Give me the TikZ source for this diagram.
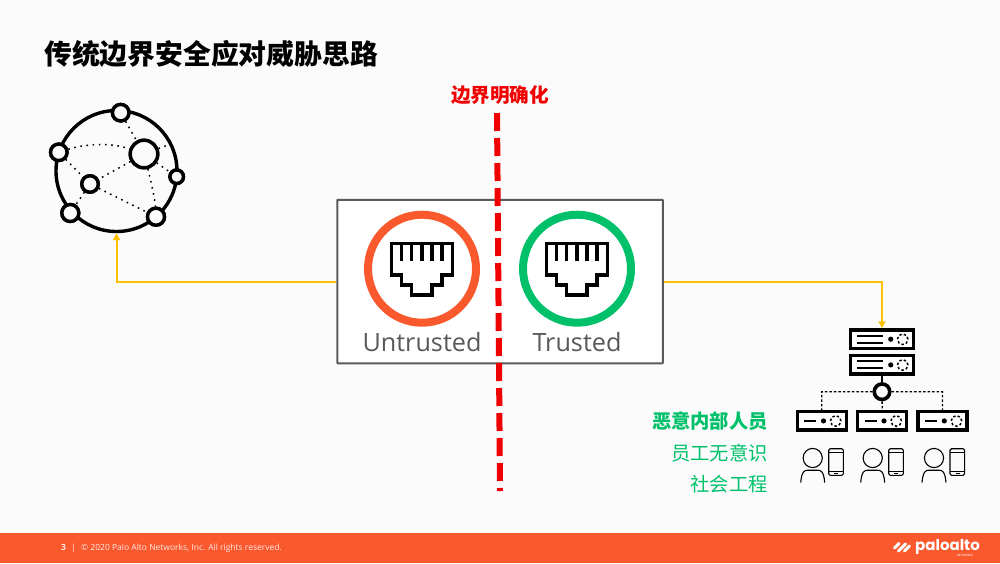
\documentclass[tikz,border=0pt]{standalone}
\usepackage{fontspec}
\setmainfont{Open Sans}
\newfontfamily\cjk{Noto Sans CJK SC}
\newfontfamily\logofont{Poppins}
\usetikzlibrary{arrows.meta,calc}
\definecolor{pagebg}{HTML}{FBFBFB}
\definecolor{paloorange}{HTML}{FA582D}
\definecolor{palogreen}{HTML}{00C16A}
\definecolor{boxgrey}{HTML}{595959}
\definecolor{linkyellow}{HTML}{FFC000}
\definecolor{redline}{HTML}{F00000}
\tikzset{
  ring/.style={circle,draw=black,fill=pagebg,line width=3.4pt,inner sep=0pt,minimum size=#1},
  dotlink/.style={line width=1.5pt,dash pattern=on 1.6pt off 4.6pt},
  portring/.style={circle,draw=#1,fill=white,line width=8pt,inner sep=0pt,minimum size=108pt},
  portlabel/.style={text=boxgrey,font=\fontsize{25.2}{25.2}\selectfont,inner sep=0pt},
  portshape/.style={line width=3.2pt,line join=miter,draw=black},
  uplink/.style={draw=linkyellow,line width=2pt,-{Triangle[length=7pt,width=7pt]}},
  srvbox/.style={rectangle,draw=black,fill=white,line width=3.4pt,inner sep=0pt,minimum width=#1,minimum height=18.5pt},
  srvdash/.style={draw=black,line width=1.5pt,dash pattern=on 2.4pt off 2.2pt},
  netdash/.style={draw=black,line width=1.3pt,dash pattern=on 2.5pt off 2pt},
  person/.style={draw=black,line width=1.1pt},
  cjklabel/.style={inner sep=0pt,anchor=east,font=\cjk\fontsize{19.3}{19.3}\selectfont,text=palogreen},
}
\newcommand{\portglyph}[1]{%
  \draw[portshape,shift={(#1)}] (-30.3,-25.3)--(30.3,-25.3)--(30.3,6.3)--(20,6.3)--(20,16.3)--(10,16.3)--(10,26.3)--(-10.3,26.3)--(-10.3,16.3)--(-20.3,16.3)--(-20.3,6.3)--(-30.3,6.3)--cycle
  (-20.3,-25.3)--(-20.3,-8) (-10.3,-25.3)--(-10.3,-8) (0,-25.3)--(0,-8) (10,-25.3)--(10,-8) (20,-25.3)--(20,-8);}
\newcommand{\bigsrv}[2]{%
  \node[srvbox=63pt] (#1) at (#2) {};
  \draw[black,line width=1.9pt,shift={(#2)}] (-24.7,-3.5)--(1.3,-3.5) (-24.7,3.5)--(1.3,3.5);
  \fill[black,shift={(#2)}] (8.7,0) circle (2.6pt);
  \draw[srvdash,shift={(#2)}] (20.7,0) circle (5.3pt);}
\newcommand{\smallsrv}[2]{%
  \node[srvbox=49pt] (#1) at (#2) {};
  \draw[black,line width=1.9pt,shift={(#2)}] (-17.5,0)--(-5.5,0);
  \fill[black,shift={(#2)}] (1.8,0) circle (2.6pt);
  \draw[srvdash,shift={(#2)}] (14,0) circle (5.3pt);}
\newcommand{\personphone}[1]{%
  \draw[person,shift={(#1)}] (0,0) circle (9.6pt);
  \draw[person,shift={(#1)}] (-12,24.5) .. controls (-11,13) and (-8,12.2) .. (-5,12.2) -- (5,12.2) .. controls (8,12.2) and (11,13) .. (12,24.5);
  \draw[person,rounded corners=1.5pt,shift={(#1)}] (16,-9.3) rectangle (30.6,17.3);
  \draw[person,shift={(#1)}] (16,-5.6)--(30.6,-5.6) (16,13.2)--(30.6,13.2) (21.5,15.2)--(25.5,15.2);}
\begin{document}
\begin{tikzpicture}[x=1pt,y=-1pt]
\useasboundingbox (0,0) rectangle (1000,563);
\fill[pagebg] (0,0) rectangle (1000,563);
\fill[paloorange] (0,533) rectangle (1000,563);
% title
\node[inner sep=0pt,anchor=west,font=\cjk\bfseries\fontsize{27.8}{27.8}\selectfont,text=black] (title) at (44,54) {传统边界安全应对威胁思路};
% globe
\node[circle,draw=black,line width=3.4pt,inner sep=0pt,minimum size=121pt] (globe) at (116.5,171) {};
\coordinate (rimr) at (168,145);
\node[ring=16.5pt] (gtop) at (120.7,112.7) {};
\node[ring=16.5pt] (gleft) at (58.8,152.3) {};
\node[ring=27.5pt] (gbig) at (144,154) {};
\node[ring=16.5pt] (gsmall) at (90,184) {};
\node[ring=13.5pt] (gright) at (176.7,176.7) {};
\node[ring=17pt] (gbl) at (70.3,213) {};
\node[ring=17pt] (gbr) at (156,216.7) {};
\draw[dotlink] (gtop)--(gbig) (gleft) .. controls (85,144) and (110,142) .. (gbig)
  (gbig)--(gright) (gbig)--(gsmall) (gbig) .. controls (152,185) and (155,200) .. (gbr)
  (gleft)--(gsmall) (gsmall)--(gbl) (gsmall)--(gbr) (gbig)--(rimr);
% re-draw rings over the dotted links
\node[ring=16.5pt] at (gtop) {};
\node[ring=16.5pt] at (gleft) {};
\node[ring=27.5pt] at (gbig) {};
\node[ring=16.5pt] at (gsmall) {};
\node[ring=13.5pt] at (gright) {};
\node[ring=17pt] at (gbl) {};
\node[ring=17pt] at (gbr) {};
% firewall box
\node[rectangle,draw=boxgrey,fill=white,line width=2pt,rounded corners=0.5pt,inner sep=0pt,minimum width=325.5pt,minimum height=163.5pt] (fw) at (500,281.5) {};
\node[portring=paloorange] (untr) at (422,268.7) {};
\node[portring=palogreen] (trust) at (577,268.7) {};
\portglyph{422,268.7}
\portglyph{577,268.7}
\node[portlabel] (lu) at (422,342) {Untrusted};
\node[portlabel] (lt) at (577,342) {Trusted};
% boundary
\node[inner sep=0pt,font=\cjk\bfseries\fontsize{19.6}{19.6}\selectfont,text=redline] (blabel) at (500,95.5) {边界明确化};
\coordinate (btop) at (497,113);
\coordinate (bbot) at (500,491);
\draw[redline,line width=6pt,dash pattern=on 18pt off 7pt] (btop)--(bbot);
% servers
\bigsrv{s1}{882,339.2}
\bigsrv{s2}{882,364.9}
\smallsrv{a1}{821.7,420.9}
\smallsrv{a2}{882.2,420.9}
\smallsrv{a3}{942.5,420.9}
\node[circle,draw=black,fill=pagebg,line width=3.6pt,inner sep=0pt,minimum size=15.5pt] (hub) at (882,391.7) {};
\draw[black,line width=2.8pt] (s2)--(hub);
\draw[netdash] (hub)-|(a1.north) (hub)-|(a3.north) (hub)--(a2.north);
% links
\draw[uplink] (fw.west)-|(globe.south);
\draw[uplink] (fw.east)-|(s1.north);
% labels
\node[cjklabel,font=\cjk\bfseries\fontsize{19.3}{19.3}\selectfont] (g1) at (768,421) {恶意内部人员};
\node[cjklabel] (g2) at (768,453) {员工无意识};
\node[cjklabel] (g3) at (768,484) {社会工程};
% people
\personphone{812.7,458}
\personphone{872.7,458}
\personphone{934,458}
% footer
\node[inner sep=0pt,anchor=west,text=white!88!paloorange,font=\fontsize{8.5}{8.5}\selectfont] (foot) at (61,548) {\textbf{3}\hspace{3pt} |\hspace{3pt} © 2020 Palo Alto Networks, Inc. All rights reserved.};
% logo
\begin{scope}[white,line width=3.1pt,line cap=round]
\draw (894.5,548)--(899,543.5);
\draw (898.5,551)--(905.5,544);
\draw (904.5,551)--(909.5,546);
\end{scope}
\node[inner sep=0pt,anchor=west,text=white,font=\logofont\bfseries\fontsize{15}{15}\selectfont] (logo) at (915,546.5) {paloalto};
\node[inner sep=0pt,text=white,font=\logofont\fontsize{3}{3}\selectfont] (logob) at (965,555.5) {NETWORKS};
\end{tikzpicture}
\end{document}
